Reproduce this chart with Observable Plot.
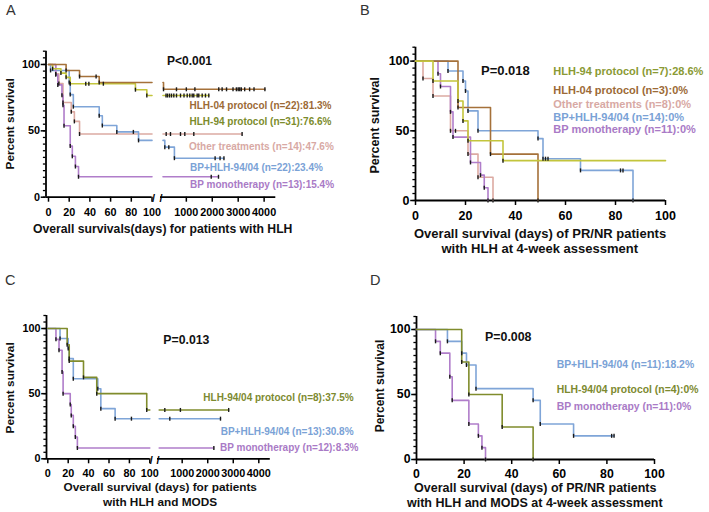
<!DOCTYPE html>
<html><head><meta charset="utf-8">
<script src="https://cdn.jsdelivr.net/npm/d3@7"></script>
<script src="https://cdn.jsdelivr.net/npm/@observablehq/plot@0.6"></script>
<style>
body{margin:0;background:#fff;}
#wrap{position:relative;width:709px;height:512px;overflow:hidden;background:#fff;font-family:"Liberation Sans",Arial,Helvetica,sans-serif;}
#wrap div.t{position:absolute;white-space:nowrap;line-height:1;}
</style></head>
<body><div id="wrap"></div>
<script>
// ---------------- data ----------------
const yTicksMajor = [0, 50, 100];
const yTicksMinor = [0,5,10,15,20,25,30,35,40,45,50,55,60,65,70,75,80,85,90,95,100,105,110];
const xTicksLow = [0, 20, 40, 60, 80, 100];
const xTicksHigh = [1000, 2000, 3000, 4000];

// Panel A – all HLH patients (days, broken axis at 100)
const aHlh04Time = [17, 30, 49, 120];
const aHlh04Surv = [95.5, 90.9, 86.4, 81.3];
const aHlh04Cens = [46, 620, 1000, 1330, 2250, 2380, 2550, 2800, 2930, 3000, 3060, 3120, 3250, 3440, 3610, 4030];
const aHlh94Time = [4, 12, 17, 21, 84, 95];
const aHlh94Surv = [96.8, 93.5, 90.3, 85.5, 81.0, 76.6];
const aHlh94Cens = [36, 39, 53, 216, 274, 351, 428, 517, 621, 775, 910, 1033, 1133, 1226, 1287, 1418, 1480, 1611, 1738, 1866];
const aOtherTime = [7, 10, 14, 22, 25, 30];
const aOtherSurv = [92.9, 85.7, 71.4, 64.3, 57.1, 47.6];
const aOtherCens = [223, 389, 775, 941, 1288, 3150];
const aBpHlhTime = [2, 20, 21, 24, 49, 52, 66, 87, 170, 540];
const aBpHlhSurv = [95.5, 86.4, 77.3, 68.2, 61.4, 54.0, 49.2, 42.8, 37.7, 29.4];
const aBpHlhCens = [82, 324, 2110, 2300, 2450];
const aBpMonoTime = [7, 9, 13, 14, 15, 21, 23, 26, 29];
const aBpMonoSurv = [92.3, 84.6, 76.9, 69.2, 53.8, 38.5, 30.8, 23.1, 15.4];
const aBpMonoCens = [1960, 2240];

// Panel B – PR/NR patients at 4-week assessment
const bHlh94Time = [7, 17, 19, 21, 35];
const bHlh94Surv = [85.7, 71.4, 57.1, 42.9, 28.6];
const bHlh94End = 100;
const bHlh04Time = [17, 30, 49];
const bHlh04Surv = [66.7, 33.3, 0];
const bOtherTime = [3, 7, 14, 21, 25, 31];
const bOtherSurv = [87.5, 75, 50, 33.3, 16.7, 0];
const bOtherCens = [16];
const bBpHlhTime = [13, 19, 20, 21, 25, 49, 51, 66, 87];
const bBpHlhSurv = [92.9, 85.7, 78.6, 64.3, 50, 44.4, 30.0, 21.6, 0];
const bBpHlhCens = [52, 53, 82, 83];
const bBpMonoTime = [9, 10, 14, 15, 22, 26, 27.5, 29];
const bBpMonoSurv = [90.9, 81.8, 63.6, 45.5, 27.3, 18.2, 9.1, 0];

// Panel C – HLH and MODS (broken axis at 100)
const cHlhTime = [19, 21, 35, 48, 97];
const cHlhSurv = [87.5, 75, 62.5, 50, 37.5];
const cHlhCens = [320, 930, 2820];
const cBpHlhTime = [12, 20, 21, 25, 49, 52, 66];
const cBpHlhSurv = [92.3, 84.6, 76.9, 61.5, 53.8, 38.5, 30.8];
const cBpHlhCens = [82, 515, 2500];
const cBpMonoTime = [8, 11, 14, 15, 22, 23, 25, 27, 29];
const cBpMonoSurv = [91.7, 83.3, 66.7, 50, 41.7, 33.3, 25, 16.7, 8.3];
const cBpMonoCens = [2240];

// Panel D – PR/NR patients with HLH and MODS
const dHlhTime = [19, 22, 36, 49];
const dHlhSurv = [75, 50, 25, 0];
const dBpHlhTime = [13, 19, 21, 25, 49, 52, 66];
const dBpHlhSurv = [90.9, 81.8, 72.7, 54.5, 45.5, 27.3, 18.2];
const dBpHlhCens = [82, 83];
const dBpMonoTime = [8, 10, 14, 15, 22, 26, 27.5, 29];
const dBpMonoSurv = [90.9, 81.8, 63.6, 45.5, 27.3, 18.2, 9.1, 0];

// ---------------- styles ----------------
const FONT = '"Liberation Sans", Arial, Helvetica, sans-serif';
const cBrown = "#a5713a", cYellow = "#c3c53c", cPink = "#dcaaa2", cBlue = "#7fa5d8", cPurple = "#b07dca", cOlive = "#808c2c";
const tBrown = "#9c6a36", tYellowA = "#7c8c2c", tYellowB = "#8a9a34", tPink = "#d8a9a4", tBlue = "#7aa2d6", tPurple = "#a97ac6", tOlive = "#7d8a30";

const wrap = document.getElementById("wrap");
const vTick = {draw(ctx, size) { const r = Math.sqrt(size / Math.PI); ctx.moveTo(0, -r); ctx.lineTo(0, r); }};

function sAt(time, surv, t) { let s = 100; time.forEach((ti, i) => { if (ti <= t) s = surv[i]; }); return s; }
function curve(time, surv, cens, color, end) {
  cens = cens || [];
  const last = end ?? Math.max(time[time.length - 1], ...cens);
  const path = [{t: 0, s: 100}, ...time.map((t, i) => ({t, s: surv[i]})), {t: last, s: surv[surv.length - 1]}];
  const ticks = [...time.map((t, i) => ({t, s: surv[i]})), ...cens.map(t => ({t, s: sAt(time, surv, t)}))];
  return {path, ticks, color};
}
function lowPart(c, cut) {
  const sc = c.path.filter(p => p.t <= cut).pop().s;
  return {color: c.color, path: [...c.path.filter(p => p.t < cut), {t: cut, s: sc}], ticks: c.ticks.filter(p => p.t <= cut)};
}
function highPart(c, cut) {
  const sc = c.path.filter(p => p.t <= cut).pop().s;
  return {color: c.color, path: [{t: cut, s: sc}, ...c.path.filter(p => p.t > cut)], ticks: c.ticks.filter(p => p.t > cut)};
}

function panel(o) {
  const marks = [Plot.ruleY([0], {stroke: "#000", strokeWidth: 1.8})];
  if (o.yAxis) {
    marks.push(Plot.ruleX([o.xDomain[0]], {dx: -o.inset, stroke: "#000", strokeWidth: 1.8}));
    marks.push(Plot.axisY({ticks: yTicksMinor, tickSize: 2.6, tickFormat: () => "", label: null, strokeWidth: 1.3}));
    marks.push(Plot.axisY({ticks: yTicksMajor, tickSize: 4.8, tickPadding: o.yPad, label: null, fontSize: o.font, fontWeight: "bold", strokeWidth: 1.5, tickFormat: d => String(d)}));
  }
  marks.push(Plot.axisX({ticks: o.xTicks, tickSize: 5, tickPadding: o.xPad, label: null, fontSize: o.font, fontWeight: "bold", strokeWidth: 1.5, tickFormat: d => String(d)}));
  if (o.breakRight) marks.push(Plot.text(["/"], {text: d => d, frameAnchor: "bottom-right", textAnchor: "middle", lineAnchor: "middle", dx: 1.5, dy: 1.5, fontSize: 11, fontWeight: "bold"}));
  if (o.breakLeft) marks.push(Plot.text(["/"], {text: d => d, frameAnchor: "bottom-left", textAnchor: "middle", lineAnchor: "middle", dx: 0.5, dy: 1.5, fontSize: 11, fontWeight: "bold"}));
  for (const c of o.curves) marks.push(Plot.line(c.path, {x: "t", y: "s", curve: "step-after", stroke: c.color, strokeWidth: 1.6}));
  for (const c of o.curves) marks.push(Plot.dot(c.ticks, {x: "t", y: "s", symbol: vTick, r: 2.0, fill: "none", stroke: "#1a1a1a", strokeWidth: 1.4}));
  const svg = Plot.plot({
    width: o.width, height: o.height,
    marginTop: o.m[0], marginRight: o.m[1], marginBottom: o.m[2], marginLeft: o.m[3],
    x: {domain: o.xDomain, insetLeft: o.inset, label: null},
    y: o.yAxis ? {domain: [0, 110], label: null} : {domain: [0, 110], label: null, axis: null},
    style: {fontFamily: FONT, background: "none", overflow: "visible", position: "absolute", left: o.left + "px", top: o.top + "px", maxWidth: "none"},
    marks
  });
  wrap.appendChild(svg);
}

function txt(text, x, cy, size, color, opts = {}) {
  const d = document.createElement("div");
  d.className = "t";
  d.textContent = text;
  d.style.fontSize = size + "px";
  d.style.fontWeight = opts.normal ? "normal" : "bold";
  d.style.color = color;
  wrap.appendChild(d);
  const w = d.offsetWidth, h = d.offsetHeight;
  let left = x;
  if (opts.anchor === "middle" || opts.rotate) left = x - w / 2;
  d.style.left = left + "px";
  d.style.top = (cy - h / 2) + "px";
  if (opts.rotate) { d.style.transformOrigin = "50% 50%"; d.style.transform = "rotate(-90deg)"; }
}

// ---------------- Panel A ----------------
const aCurves = [
  curve(aOtherTime, aOtherSurv, aOtherCens, cPink),
  curve(aBpHlhTime, aBpHlhSurv, aBpHlhCens, cBlue),
  curve(aBpMonoTime, aBpMonoSurv, aBpMonoCens, cPurple),
  curve(aHlh94Time, aHlh94Surv, aHlh94Cens, cYellow),
  curve(aHlh04Time, aHlh04Surv, aHlh04Cens, cBrown)
];
panel({left: 0, top: 0, width: 152, height: 230, m: [50.7, 0.5, 33.3, 45.5], inset: 2.5, xDomain: [0, 100], xTicks: xTicksLow, yAxis: true, font: 10.8, xPad: 6.2, yPad: 1.2, breakRight: true, curves: aCurves.map(c => lowPart(c, 100))});
panel({left: 152, top: 0, width: 125, height: 230, m: [50.7, 1.7, 33.3, 8], inset: 2.5, xDomain: [100, 4450], xTicks: xTicksHigh, yAxis: false, font: 10.8, xPad: 6.2, breakLeft: true, curves: aCurves.map(c => highPart(c, 100))});

// ---------------- Panel B ----------------
panel({left: 355, top: 0, width: 312, height: 230, m: [46.7, 2, 30, 60], inset: 0, xDomain: [0, 100], xTicks: xTicksLow, yAxis: true, font: 12.5, xPad: 5.2, yPad: 1.2, curves: [
  curve(bOtherTime, bOtherSurv, bOtherCens, cPink),
  curve(bBpMonoTime, bBpMonoSurv, [], cPurple),
  curve(bBpHlhTime, bBpHlhSurv, bBpHlhCens, cBlue),
  curve(bHlh04Time, bHlh04Surv, [], cBrown),
  curve(bHlh94Time, bHlh94Surv, [], cYellow, bHlh94End)
]});

// ---------------- Panel C ----------------
const cCurves = [
  curve(cBpMonoTime, cBpMonoSurv, cBpMonoCens, cPurple),
  curve(cBpHlhTime, cBpHlhSurv, cBpHlhCens, cBlue),
  curve(cHlhTime, cHlhSurv, cHlhCens, cOlive)
];
panel({left: 0, top: 255, width: 150, height: 230, m: [60, 0.7, 26.7, 46], inset: 1.3, xDomain: [0, 100], xTicks: xTicksLow, yAxis: true, font: 10.8, xPad: 5.8, yPad: 1.2, breakRight: true, curves: cCurves.map(c => lowPart(c, 100))});
panel({left: 150, top: 255, width: 122, height: 230, m: [60, 2.2, 26.7, 7], inset: 1.7, xDomain: [100, 4450], xTicks: xTicksHigh, yAxis: false, font: 10.8, xPad: 5.8, breakLeft: true, curves: cCurves.map(c => highPart(c, 100))});

// ---------------- Panel D ----------------
panel({left: 355, top: 255, width: 302, height: 230, m: [61, 3, 26, 61], inset: 0, xDomain: [0, 100], xTicks: xTicksLow, yAxis: true, font: 12.3, xPad: 4.8, yPad: 1.2, curves: [
  curve(dBpMonoTime, dBpMonoSurv, [], cPurple),
  curve(dBpHlhTime, dBpHlhSurv, dBpHlhCens, cBlue),
  curve(dHlhTime, dHlhSurv, [], cOlive)
]});

// ---------------- texts ----------------
const black = "#111";
txt("A", 6, 10, 14.5, "#333", {normal: true});
txt("B", 360, 10, 14.5, "#333", {normal: true});
txt("C", 5, 280, 14.5, "#333", {normal: true});
txt("D", 370, 280, 14.5, "#333", {normal: true});

txt("P<0.001", 167, 61, 12, black);
txt("P=0.018", 481, 70.3, 13, black);
txt("P=0.013", 163.3, 340, 12.3, black);
txt("P=0.008", 485, 336.7, 12.4, black);

txt("HLH-04 protocol (n=22):81.3%", 189.5, 106, 10, tBrown);
txt("HLH-94 protocol (n=31):76.6%", 189.5, 122, 10, tYellowA);
txt("Other treatments (n=14):47.6%", 189, 147, 10, tPink);
txt("BP+HLH-94/04 (n=22):23.4%", 190, 168, 10, tBlue);
txt("BP monotherapy (n=13):15.4%", 190, 185, 10, tPurple);

txt("HLH-94 protocol (n=7):28.6%", 553.3, 71, 11, tYellowB);
txt("HLH-04 protocol (n=3):0%", 553.3, 90, 11, tBrown);
txt("Other treatments (n=8):0%", 553.3, 104, 11, tPink);
txt("BP+HLH-94/04 (n=14):0%", 553.3, 117.3, 11, tBlue);
txt("BP monotherapy (n=11):0%", 553.3, 129.3, 11, tPurple);

txt("HLH-94/04 protocol (n=8):37.5%", 203.3, 397.7, 10, tOlive);
txt("BP+HLH-94/04 (n=13):30.8%", 220.7, 431.7, 10, tBlue);
txt("BP monotherapy (n=12):8.3%", 220, 448.3, 10, tPurple);

txt("BP+HLH-94/04 (n=11):18.2%", 556.7, 365, 10.4, tBlue);
txt("HLH-94/04 protocol (n=4):0%", 556.7, 390, 10.4, tOlive);
txt("BP monotherapy (n=11):0%", 556.7, 406.7, 10.4, tPurple);

txt("Overall survivals(days) for patients with HLH", 162.5, 229, 12.2, black, {anchor: "middle"});
txt("Overall survival (days) of PR/NR patients", 540, 233.3, 13, black, {anchor: "middle"});
txt("with HLH at 4-week assessment", 540, 248.3, 13, black, {anchor: "middle"});
txt("Overall survival (days) for patients", 160, 488.3, 11.8, black, {anchor: "middle"});
txt("with HLH and MODS", 160, 503.3, 11.8, black, {anchor: "middle"});
txt("Overall survival (days) of PR/NR patients", 535, 488.3, 12.5, black, {anchor: "middle"});
txt("with HLH and MODS at 4-week assessment", 535, 503.3, 12.5, black, {anchor: "middle"});

txt("Percent survival", 10, 123.8, 11.8, black, {rotate: true});
txt("Percent survival", 375, 125, 12.5, black, {rotate: true});
txt("Percent survival", 10, 388.3, 11.8, black, {rotate: true});
txt("Percent survival", 380, 385.8, 12, black, {rotate: true});
</script>
</body></html>
